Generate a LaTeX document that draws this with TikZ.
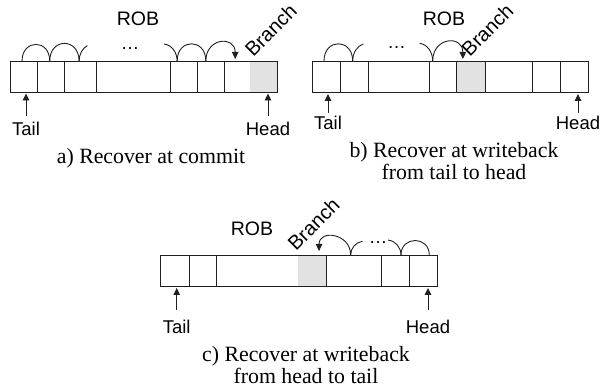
\documentclass[tikz,border=0pt]{standalone}
\usepackage{fontspec}
\setmainfont{Liberation Serif}
\setsansfont{Liberation Sans}
\usetikzlibrary{arrows.meta, positioning}
\definecolor{cellline}{RGB}{35,31,32}
\definecolor{branchfill}{RGB}{226,226,227}
\tikzset{
  cell/.style={
    rectangle, draw=cellline, line width=0.9pt,
    minimum height=31pt, inner sep=0pt, outer sep=0pt
  },
  brc/.style={cell, draw=none, fill=branchfill},
  robframe/.style={draw=cellline, line width=0.9pt},
  lbl/.style={font=\sffamily\fontsize{18.5}{18.5}\selectfont, inner sep=0pt},
  rob/.style={lbl, font=\sffamily\fontsize{19.5}{19.5}\selectfont, anchor=base},
  brl/.style={lbl, font=\sffamily\fontsize{20}{20}\selectfont, rotate=45, anchor=base west},
  captxt/.style={font=\fontsize{21.8}{22}\selectfont, align=center,
    inner sep=0pt, anchor=north},
  ptr/.style={-{Triangle[length=7pt,width=6.5pt]}, line width=0.9pt, draw=cellline},
  hop/.style={out=90, in=90, looseness=2.05, line width=0.9pt, draw=cellline},
  partarc/.style={line width=0.9pt, draw=cellline}
}

\begin{document}
\begin{tikzpicture}[x=1pt, y=1pt]
  \useasboundingbox (0,0) rectangle (603,387);

  %% ── a) recover at commit ─────────────────────────────────
  \node[cell, minimum width=26.7pt, anchor=west] (a1) at (10.7,310.5) {};
  \node[cell, minimum width=26.7pt, right=0pt of a1] (a2) {};
  \node[cell, minimum width=32pt,   right=0pt of a2] (a3) {};
  \node[cell, minimum width=74.7pt, right=0pt of a3] (a4) {};
  \node[cell, minimum width=26.7pt, right=0pt of a4] (a5) {};
  \node[cell, minimum width=26.7pt, right=0pt of a5] (a6) {};
  \node[cell, minimum width=26pt,   right=0pt of a6] (a7) {};
  \node[brc,  minimum width=27pt,   right=0pt of a7] (a8) {};
  \draw[robframe] (a1.north west) rectangle (a8.south east);

  \node[rob] (robA) at (138,361) {ROB};
  \node[brl] (brA) at ([shift={(3pt,3pt)}]a8.north west) {Branch};

  \draw[hop] ([xshift=-2pt]a1.north) to ([xshift=-1pt]a2.north);
  \draw[hop] ([xshift=-1pt]a2.north) to ([xshift=-1pt]a3.north);
  \draw[partarc] ([xshift=-1pt]a3.north)
    arc[start angle=180, end angle=115, x radius=14.3, y radius=17];
  \node[lbl, anchor=base] (dtA) at (130,337.5) {…};
  \draw[partarc] ([xshift=-7pt]a5.north)
    arc[start angle=0, end angle=85, x radius=14.3, y radius=17];
  \draw[hop] ([xshift=-7pt]a5.north) to ([xshift=-5pt]a6.north);
  \draw[hop, ptr] ([xshift=-5pt]a6.north) to ([shift={(-2pt,2pt)}]a7.north);

  \node[lbl, anchor=base] (tlA) at (26,251.5) {Tail};
  \node[lbl, anchor=base] (hdA) at (268,251.5) {Head};
  \draw[ptr, shorten <=5.5pt, shorten >=1.5pt] (tlA.north) -- (tlA.north |- a1.south);
  \draw[ptr, shorten <=5.5pt, shorten >=1.5pt] (hdA.north) -- (hdA.north |- a8.south);

  \node[captxt] (capA) at (151,238.5) {a) Recover at commit};

  %% ── b) recover at writeback, tail to head ────────────────
  \node[cell, minimum width=28pt,   anchor=west] (b1) at (312.7,310.5) {};
  \node[cell, minimum width=27.6pt, right=0pt of b1] (b2) {};
  \node[cell, minimum width=61pt,   right=0pt of b2] (b3) {};
  \node[cell, minimum width=27.4pt, right=0pt of b3] (b4) {};
  \node[brc,  minimum width=28.3pt, right=0pt of b4] (b5) {};
  \node[cell, minimum width=47.7pt, right=0pt of b5] (b6) {};
  \node[cell, minimum width=27.3pt, right=0pt of b6] (b7) {};
  \node[cell, minimum width=28.3pt, right=0pt of b7] (b8) {};
  \draw[robframe] (b1.north west) rectangle (b8.south east);

  \node[rob] (robB) at (444,361) {ROB};
  \node[brl] (brB) at ([shift={(13pt,3.7pt)}]b5.north west) {Branch};

  \draw[hop] ([xshift=-2.7pt]b1.north) to ([xshift=-1.8pt]b2.north);
  \draw[partarc] ([xshift=-1.8pt]b2.north)
    arc[start angle=180, end angle=105, x radius=14.3, y radius=17.7];
  \node[lbl, anchor=base] (dtB) at (396.5,338.5) {…};
  \draw[partarc] ([xshift=-10.3pt]b4.north)
    arc[start angle=0, end angle=85, x radius=14.3, y radius=17.7];
  \draw[hop, ptr] ([xshift=-10.3pt]b4.north) to ([shift={(-8pt,2pt)}]b5.north);

  \node[lbl, anchor=base] (tlB) at (328,257) {Tail};
  \node[lbl, anchor=base] (hdB) at (578,257) {Head};
  \draw[ptr, shorten <=3.5pt, shorten >=2pt] (tlB.north) -- (tlB.north |- b1.south);
  \draw[ptr, shorten <=3.5pt, shorten >=2pt] (hdB.north) -- (hdB.north |- b8.south);

  \node[captxt] (capB) at (454,245) {b) Recover at writeback\\from tail to head};

  %% ── c) recover at writeback, head to tail ────────────────
  \node[cell, minimum width=28.3pt, anchor=west] (c1) at (160.7,116.5) {};
  \node[cell, minimum width=27.7pt, right=0pt of c1] (c2) {};
  \node[cell, minimum width=81.6pt, right=0pt of c2] (c3) {};
  \node[brc,  minimum width=27.7pt, right=0pt of c3] (c4) {};
  \node[cell, minimum width=55.7pt, right=0pt of c4] (c5) {};
  \node[cell, minimum width=27.6pt, right=0pt of c5] (c6) {};
  \node[cell, minimum width=28.4pt, right=0pt of c6] (c7) {};
  \draw[robframe] (c1.north west) rectangle (c7.south east);

  \node[rob] (robC) at (252,151.3) {ROB};
  \node[brl] (brC) at ([shift={(-2.3pt,3.3pt)}]c4.north west) {Branch};

  \draw[hop, ptr, looseness=1.75] ([xshift=-3.2pt]c5.north) to ([shift={(6.9pt,4pt)}]c4.north);
  \draw[partarc] ([xshift=-3.2pt]c5.north)
    arc[start angle=180, end angle=100, x radius=14.3, y radius=14];
  \node[lbl, anchor=base] (dtC) at (378,143) {…};
  \draw[partarc] ([xshift=5.5pt]c6.north)
    arc[start angle=0, end angle=85, x radius=14.3, y radius=15];
  \draw[hop, looseness=1.75] ([xshift=5.5pt]c6.north) to ([xshift=5.8pt]c7.north);

  \node[lbl, anchor=base] (tlC) at (176.7,53.7) {Tail};
  \node[lbl, anchor=base] (hdC) at (428,53.7) {Head};
  \draw[ptr, shorten <=10pt, shorten >=2pt] (tlC.north) -- (tlC.north |- c1.south);
  \draw[ptr, shorten <=10pt, shorten >=2pt] (hdC.north) -- (hdC.north |- c7.south);

  \node[captxt] (capC) at (306,41) {c) Recover at writeback\\from head to tail};

\end{tikzpicture}
\end{document}
